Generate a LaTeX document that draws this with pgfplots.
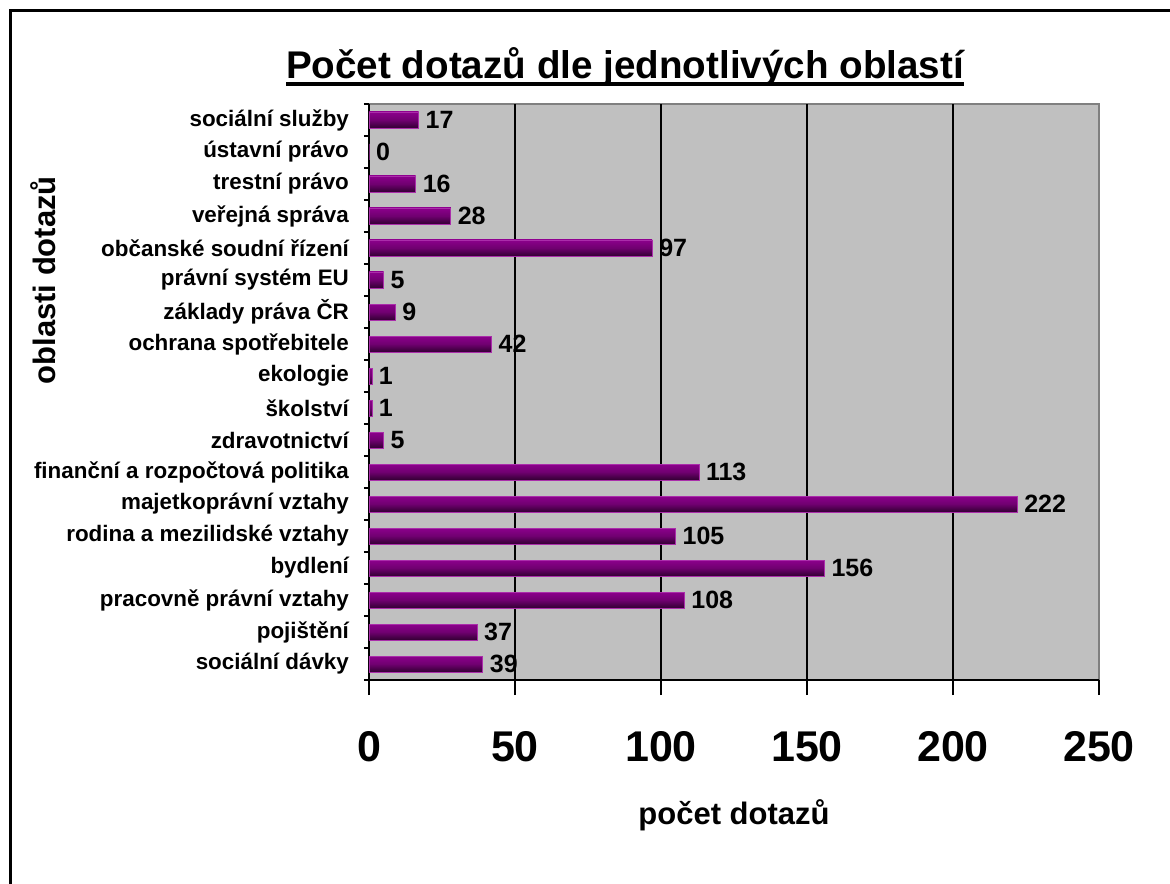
\documentclass[border=0pt]{standalone}
\usepackage{pgfplots}
\pgfplotsset{compat=1.18}
\usetikzlibrary{calc}
\usepackage{fontspec}
\setmainfont{Liberation Sans}
\newcommand\thickul[1]{\setbox0\hbox{#1}\rlap{\rule[-4pt]{\wd0}{2pt}}\box0}

\definecolor{plotbg}{RGB}{192,192,192}
\definecolor{bordergray}{RGB}{128,128,128}
\definecolor{bartop}{RGB}{140,0,140}
\definecolor{barmid}{RGB}{112,0,112}
\definecolor{barbot}{RGB}{50,0,50}
\definecolor{baredge}{RGB}{170,45,170}

\pgfplotsset{onebar/.style={top color=bartop, bottom color=barbot,
  middle color=barmid, draw=baredge, line width=0.4pt, bar shift=0pt}}
\newcommand\onebar[2]{\addplot[onebar] coordinates {(#1,#2)};}

\begin{document}
\begin{tikzpicture}
\begin{axis}[
  scale only axis, width=365pt, height=288pt,
  xbar, bar width=8pt,
  xmin=0, xmax=250, ymin=-0.5, ymax=17.5,
  axis x line*=bottom, axis y line*=left,
  axis line style={black, line width=0.8pt},
  axis background/.style={fill=plotbg, draw=bordergray, line width=1pt},
  tick align=outside,
  major tick length=7.5pt,
  tick style={black, line width=0.8pt},
  xtick={0,50,...,250},
  extra x ticks={50,100,150,200},
  extra x tick labels={},
  extra x tick style={grid=major, major tick length=0pt},
  major grid style={black, line width=0.8pt},
  ytick={0,...,17},
  y tick style={draw=none},
  yticklabels={sociální dávky, pojištění, pracovně právní vztahy, bydlení,
    rodina a mezilidské vztahy, majetkoprávní vztahy,
    finanční a rozpočtová politika, zdravotnictví, školství, ekologie,
    ochrana spotřebitele, základy práva ČR, právní systém EU,
    občanské soudní řízení, veřejná správa, trestní právo,
    ústavní právo, sociální služby},
  extra y ticks={-0.5,0.5,...,17.5},
  extra y tick labels={},
  extra y tick style={y tick style={draw=black}, major tick length=2.5pt},
  /pgf/number format/assume math mode=true,
  xticklabel style={font=\fontsize{21.5}{22}\selectfont\bfseries, yshift=-14.5pt},
  yticklabel style={font=\fontsize{11.2}{12}\selectfont\bfseries, xshift=1pt},
  xlabel={počet dotazů},
  xlabel style={at={(axis description cs:0.5,-0.234)}, anchor=center,
    font=\fontsize{15.5}{16}\selectfont\bfseries},
  ylabel={oblasti dotazů},
  ylabel style={at={(axis description cs:-0.4466,0.694)}, anchor=center,
    font=\fontsize{15.5}{16}\selectfont\bfseries},
  title={\thickul{Počet dotazů dle jednotlivých oblastí}},
  title style={at={(axis description cs:0.3507,1.0435)}, anchor=center,
    font=\fontsize{19.3}{20}\selectfont\bfseries},
  nodes near coords,
  nodes near coords style={font=\fontsize{12.5}{13}\selectfont\bfseries,
    anchor=west},
]
\onebar{39}{0}
\onebar{37}{1}
\onebar{108}{2}
\onebar{156}{3}
\onebar{105}{4}
\onebar{222}{5}
\onebar{113}{6}
\onebar{5}{7}
\onebar{1}{8}
\onebar{1}{9}
\onebar{42}{10}
\onebar{9}{11}
\onebar{5}{12}
\onebar{97}{13}
\onebar{28}{14}
\onebar{16}{15}
\onebar{0}{16}
\onebar{17}{17}
\coordinate (A) at (rel axis cs:0,0);
\end{axis}
\pgfresetboundingbox
\path[use as bounding box] ($(A)+(-184.5pt,-101.5pt)$) rectangle ($(A)+(400.5pt,340pt)$);
\draw[line width=1.5pt] ($(A)+(-179.2pt,-110pt)$) -- ($(A)+(-179.2pt,334.5pt)$) -- ($(A)+(410pt,334.5pt)$);
\end{tikzpicture}
\end{document}
